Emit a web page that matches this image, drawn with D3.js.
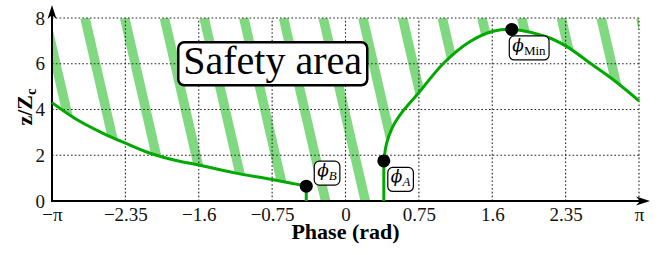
<!DOCTYPE html>
<html>
<head>
<meta charset="utf-8">
<script src="https://cdn.jsdelivr.net/npm/d3@7"></script>
<style>
  body { margin: 0; background: #fff; }
  text { font-family: "Liberation Serif", "DejaVu Serif", serif; }
</style>
</head>
<body>
<svg id="chart" width="663" height="255"></svg>
<script>
var PI = Math.PI;

// left branch of the boundary curve (ends at phi_B)
var leftPhase = [-PI, -2.9, -2.6, -2.35, -2.1, -1.8, -1.57, -1.2, -0.8, -0.42];
var leftZ     = [4.30, 3.62, 2.97, 2.52, 2.10, 1.76, 1.57, 1.24, 0.95, 0.65];

// right branch (starts at phi_A)
var rightPhase = [0.41, 0.44, 0.50, 0.60, 0.78, 1.05, 1.33, 1.58, 1.78, 2.15, 2.37, 2.62, 2.87, PI];
var rightZ     = [1.75, 2.52, 3.20, 3.85, 4.71, 6.02, 6.96, 7.42, 7.50, 7.18, 6.75, 6.02, 5.29, 4.38];

// marked points
var markNames = ["B", "A", "Min"];
var markPhase = [-0.42, 0.41, 1.78];
var markZ     = [0.65, 1.75, 7.50];

// axes
var xTickVals   = [-PI, -3*PI/4, -PI/2, -PI/4, 0, PI/4, PI/2, 3*PI/4, PI];
var xTickLabels = ["\u2212\u03c0", "\u22122.35", "\u22121.6", "\u22120.75", "0", "0.75", "1.6", "2.35", "\u03c0"];
var yTickVals   = [0, 2, 4, 6, 8];
var areaLabel   = "Safety area";
var areaAt      = [-0.78, 6];

var svg = d3.select('#chart');
var x = d3.scaleLinear().domain([-PI, PI]).range([52, 639]);
var y = d3.scaleLinear().domain([0, 8]).range([201, 18]);

var left  = leftPhase.map(function(p, i) { return [p, leftZ[i]]; });
var right = rightPhase.map(function(p, i) { return [p, rightZ[i]]; });

var green = '#00a900', light = '#80d980';
var top8 = d3.max(yTickVals);
var curve = d3.curveCatmullRom.alpha(0.5);

// clip: region above the boundary
var defs = svg.append('defs');
var area = d3.area().x(function(d) { return x(d[0]); })
    .y0(y(top8)).y1(function(d) { return y(d[1]); })
    .curve(curve);
var clip = defs.append('clipPath').attr('id', 'safe');
clip.append('path').attr('d', area(left));
clip.append('path').attr('d', area(right));
clip.append('rect')
    .attr('x', x(markPhase[0])).attr('y', y(top8))
    .attr('width', x(markPhase[1]) - x(markPhase[0]))
    .attr('height', y(0) - y(top8));

// hatch stripes
var step = 39.7, slope = 0.23, firstPx = 85;
var hatch = svg.append('g').attr('clip-path', 'url(#safe)')
    .attr('stroke', light).attr('stroke-width', 9.5);
var h = y(0) - y(top8);
for (var sx = firstPx - 3 * step; sx < x(PI) + step; sx += step) {
  hatch.append('line').attr('x1', sx).attr('y1', y(top8))
    .attr('x2', sx + slope * h).attr('y2', y(0));
}

// dotted grid
var grid = svg.append('g').attr('stroke', '#222').attr('stroke-width', 1.1)
    .attr('stroke-dasharray', '1.6,2.2').attr('fill', 'none');
yTickVals.slice(1).forEach(function(v) {
  grid.append('line').attr('x1', x(-PI)).attr('x2', x(PI)).attr('y1', y(v)).attr('y2', y(v));
});
xTickVals.slice(1).forEach(function(v) {
  grid.append('line').attr('x1', x(v)).attr('x2', x(v)).attr('y1', y(0)).attr('y2', y(top8));
});

// tick labels
var xAxis = svg.append('g').attr('transform', 'translate(0,' + y(0) + ')')
    .call(d3.axisBottom(x).tickValues(xTickVals).tickSize(0).tickPadding(7)
      .tickFormat(function(d, i) { return xTickLabels[i]; }));
var yAxis = svg.append('g').attr('transform', 'translate(' + x(-PI) + ',0)')
    .call(d3.axisLeft(y).tickValues(yTickVals).tickSize(0).tickPadding(7)
      .tickFormat(d3.format('d')));
[xAxis, yAxis].forEach(function(g) {
  g.select('.domain').remove();
  g.selectAll('text').attr('font-size', 19).attr('fill', '#111');
});

// axis lines with arrows
var x0 = x(-PI), y0 = y(0), xEnd = x(PI) + 11, yEnd = y(top8) - 13;
svg.append('line').attr('x1', x0).attr('x2', xEnd - 6).attr('y1', y0).attr('y2', y0)
    .attr('stroke', '#000').attr('stroke-width', 2);
svg.append('line').attr('x1', x0).attr('x2', x0).attr('y1', y0 + 1).attr('y2', yEnd + 6)
    .attr('stroke', '#000').attr('stroke-width', 2);
svg.append('path').attr('fill', '#000')
    .attr('d', 'M' + xEnd + ',' + y0 + 'L' + (xEnd - 14) + ',' + (y0 - 4.5) + 'L' + (xEnd - 10) + ',' + y0 +
               'L' + (xEnd - 14) + ',' + (y0 + 4.5) + 'Z');
svg.append('path').attr('fill', '#000')
    .attr('d', 'M' + x0 + ',' + yEnd + 'L' + (x0 - 4.5) + ',' + (yEnd + 14) + 'L' + x0 + ',' + (yEnd + 10) +
               'L' + (x0 + 4.5) + ',' + (yEnd + 14) + 'Z');

// axis titles
svg.append('text').attr('x', x(0)).attr('y', 239).attr('text-anchor', 'middle')
    .attr('font-weight', 'bold').attr('font-size', 22).text('Phase (rad)');
var yt = svg.append('text').attr('transform', 'translate(32,107) rotate(-90)')
    .attr('text-anchor', 'middle').attr('font-weight', 'bold').attr('font-size', 22);
yt.append('tspan').text('z/Z');
yt.append('tspan').attr('font-size', 15).attr('dy', 4).text('c');

// boundary curves
var line = d3.line().x(function(d) { return x(d[0]); }).y(function(d) { return y(d[1]); })
    .curve(curve);
[left, right].forEach(function(d) {
  svg.append('path').attr('d', line(d)).attr('fill', 'none')
    .attr('stroke', green).attr('stroke-width', 3);
});
[0, 1].forEach(function(i) {
  svg.append('line').attr('x1', x(markPhase[i])).attr('x2', x(markPhase[i]))
    .attr('y1', y(0)).attr('y2', y(markZ[i]))
    .attr('stroke', green).attr('stroke-width', 3);
});

// safety area label
var sa = svg.append('g');
var saText = sa.append('text').attr('x', x(areaAt[0])).attr('y', y(areaAt[1]) + 10)
    .attr('text-anchor', 'middle').attr('font-size', 40).text(areaLabel);
var sb = saText.node().getBBox();
sa.insert('rect', 'text').attr('x', sb.x - 5).attr('y', y(areaAt[1]) - 21.5)
    .attr('width', sb.width + 10).attr('height', 43).attr('rx', 6)
    .attr('fill', '#fff').attr('stroke', '#000').attr('stroke-width', 2.5);

// markers + labels
var offs = [[8, -25], [4, 6.5], [-2.5, 6.5]];
markNames.forEach(function(n, i) {
  var mx = x(markPhase[i]), my = y(markZ[i]);
  svg.append('circle').attr('cx', mx).attr('cy', my).attr('r', 6.5).attr('fill', '#000');
  var g = svg.append('g');
  var t = g.append('text').attr('x', 0).attr('y', 0).attr('font-size', 20);
  t.append('tspan').attr('font-style', 'italic').attr('font-family', '"DejaVu Serif", serif')
    .attr('font-size', 17).text('\u03d5');
  t.append('tspan').attr('dy', 4).attr('font-size', 13)
    .attr('font-style', n === 'Min' ? 'normal' : 'italic').text(n);
  var b = t.node().getBBox();
  var pad = 3;
  g.insert('rect', 'text').attr('x', b.x - pad).attr('y', b.y + 1)
    .attr('width', b.width + 2 * pad).attr('height', b.height + 1).attr('rx', 5)
    .attr('fill', '#fff').attr('stroke', '#000').attr('stroke-width', 1.2);
  g.attr('transform', 'translate(' + (mx + offs[i][0] - b.x + pad) + ',' + (my + offs[i][1] - b.y - 1) + ')');
});
</script>
</body>
</html>
